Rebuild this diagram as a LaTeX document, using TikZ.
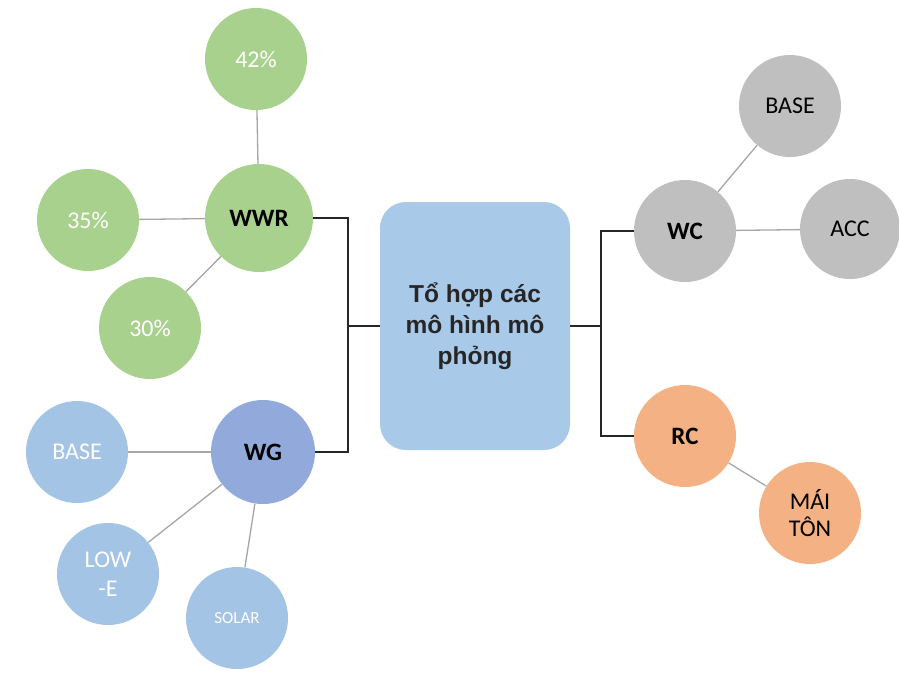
\documentclass[tikz,border=0pt]{standalone}
\usepackage{fontspec}
\setmainfont{Carlito}
\newfontfamily\boxfont{Liberation Sans}
\definecolor{cgreen}{HTML}{A9D18E}
\definecolor{cblue}{HTML}{A4C4E6}
\definecolor{cwg}{HTML}{92AADB}
\definecolor{cboxc}{HTML}{A9C9E9}
\definecolor{cgray}{HTML}{BFBFBF}
\definecolor{corange}{HTML}{F4B183}
\definecolor{cline}{HTML}{A6A6A6}
\definecolor{cdark}{HTML}{262626}
\begin{document}
\begin{tikzpicture}[x=1pt,y=-1pt,
  circ/.style={circle,inner sep=0pt,minimum size=102pt,align=center,font=\fontsize{24}{27}\selectfont},
  leafw/.style={circ,text=white},
  leafb/.style={circ,text=black},
  hub/.style={circ,text=black,font=\fontsize{25}{27}\selectfont\bfseries},
  thin/.style={draw=cline,line width=1.3pt},
  bracket/.style={draw=cdark,line width=1.8pt}]
\useasboundingbox (0,0) rectangle (899,673);
\fill[white] (0,0) rectangle (899,673);
% WWR group
\node[hub,fill=cgreen,minimum size=108pt] (wwr) at (259,218) {WWR};
\node[leafw,fill=cgreen] (p42) at (256,59) {42\%};
\node[leafw,fill=cgreen] (p35) at (88,220) {35\%};
\node[leafw,fill=cgreen] (p30) at (150,328) {30\%};
% WG group
\node[hub,fill=cwg,minimum size=104pt] (wg) at (263,452) {WG};
\node[leafw,fill=cblue] (bl) at (77,452) {BASE};
\node[leafw,fill=cblue] (lowe) at (108,574) {LOW\\[2pt]-E};
\node[leafw,fill=cblue,font=\fontsize{17}{19}\selectfont] (solar) at (237,618) {SOLAR};
% centre
\node[fill=cboxc,rounded corners=26pt,minimum width=190pt,minimum height=248pt,inner sep=0pt,align=center,
  font=\boxfont\fontsize{24.5}{31}\selectfont\bfseries,text=cdark] (box) at (475,326)
  {Tổ hợp các\\mô hình mô\\phỏng};
% WC group
\node[hub,fill=cgray] (wc) at (685,231) {WC};
\node[leafb,fill=cgray] (bg) at (790,106) {BASE};
\node[leafb,fill=cgray,minimum size=100pt] (acc) at (850,229) {ACC};
% RC group
\node[hub,fill=corange] (rc) at (685,436) {RC};
\node[leafb,fill=corange] (mai) at (810,513) {MÁI\\TÔN};
% thin connectors
\draw[thin] (wwr) -- (p42);
\draw[thin] (wwr) -- (p35);
\draw[thin] (wwr) -- (p30);
\draw[thin] (wg) -- (bl);
\draw[thin] (wg) -- (lowe);
\draw[thin] (wg) -- (solar);
\draw[thin] (wc) -- (bg);
\draw[thin] (wc) -- (acc);
\draw[thin] (rc) -- (mai);
% brackets
\coordinate (l1) at (348,218);
\coordinate (l2) at (348,452);
\coordinate (lm) at (348,326);
\coordinate (r1) at (601,231);
\coordinate (r2) at (601,436);
\coordinate (rm) at (601,326);
\draw[bracket] (wwr.east) -- (l1) -- (l2) -- (wg.east);
\draw[bracket] (lm) -- (box.west);
\draw[bracket] (wc.west) -- (r1) -- (r2) -- (rc.west);
\draw[bracket] (rm) -- (box.east);
\end{tikzpicture}
\end{document}
